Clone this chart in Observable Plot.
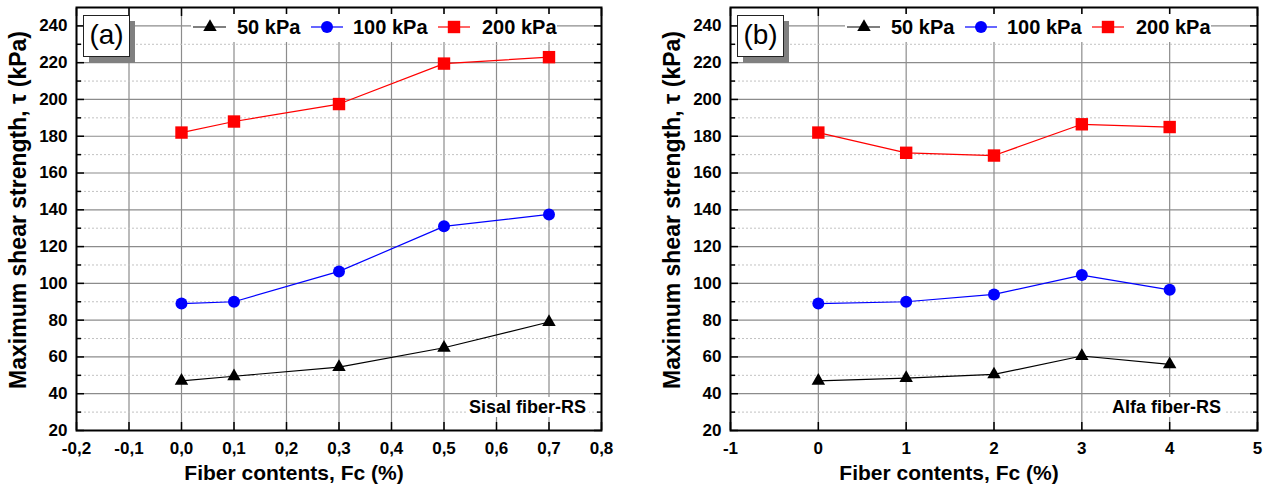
<!DOCTYPE html>
<html><head><meta charset="utf-8">
<script src="https://cdn.jsdelivr.net/npm/d3@7"></script>
<script src="https://cdn.jsdelivr.net/npm/@observablehq/plot@0.6"></script>
<style>
body{margin:0;background:#fff;}
#row{display:flex;width:1265px;height:489px;overflow:hidden;}
.panel{position:relative;}
.panel svg.ov{position:absolute;left:0;top:0;pointer-events:none;}
</style></head><body><div id="row"></div>
<script>
// ---- data ----
const loads = ["50 kPa", "100 kPa", "200 kPa"];
const colors = ["#000000", "#0000ff", "#ff0000"];
const symbols = ["triangle", "circle", "square"];
const radii = [5, 6, 7];

const fcA = [0, 0.1, 0.3, 0.5, 0.7];
const tauA50 = [47, 49.5, 54.5, 65, 79];
const tauA100 = [89, 90, 106.5, 131, 137.5];
const tauA200 = [182, 188, 197.5, 219.5, 223];

const fcB = [0, 1, 2, 3, 4];
const tauB50 = [47, 48.5, 50.5, 60.5, 56];
const tauB100 = [89, 90, 94, 104.5, 96.5];
const tauB200 = [182, 171, 169.5, 186.5, 185];

const xTicksA = [-0.2, -0.1, 0, 0.1, 0.2, 0.3, 0.4, 0.5, 0.6, 0.7, 0.8];
const xTickLabelsA = ["-0,2", "-0,1", "0,0", "0,1", "0,2", "0,3", "0,4", "0,5", "0,6", "0,7", "0,8"];
const xTicksB = [-1, 0, 1, 2, 3, 4, 5];
const xTickLabelsB = ["-1", "0", "1", "2", "3", "4", "5"];
const yTicks = [20, 40, 60, 80, 100, 120, 140, 160, 180, 200, 220, 240];
const yTickLabels = ["20", "40", "60", "80", "100", "120", "140", "160", "180", "200", "220", "240"];
const yMinor = [30, 50, 70, 90, 110, 130, 150, 170, 190, 210, 230];

const yTitle = "Maximum shear strength, \u03c4 (kPa)";
const xTitle = "Fiber contents, Fc (%)";
const panelTags = ["(a)", "(b)"];
const fiberNames = ["Sisal fiber-RS", "Alfa fiber-RS"];

// ---- build ----
function rowsOf(fc, s50, s100, s200) {
  const out = [];
  [s50, s100, s200].forEach((s, k) => s.forEach((v, i) => out.push({fc: fc[i], tau: v, load: loads[k]})));
  return out;
}

function label(ticks, labels) {
  return d => { const i = ticks.findIndex(t => Math.abs(t - d) < 1e-9); return i < 0 ? "" : labels[i]; };
}

const FONT = "'Liberation Sans', Arial, Helvetica, sans-serif";

function makePanel(cfg) {
  const {width, ml, mr, xDomain, xTicks, xLabels, rows, tag, name, nameGap} = cfg;
  const mt = 7, mb = 59, H = 489;
  const chart = Plot.plot({
    width, height: H, marginLeft: ml, marginRight: mr, marginTop: mt, marginBottom: mb,
    x: {domain: xDomain, label: null},
    y: {domain: [20, 250], label: null},
    color: {domain: loads, range: colors},
    style: {fontFamily: FONT, fontWeight: "bold", fontSize: "17px", color: "black", background: "white"},
    marks: [
      Plot.gridX({ticks: xTicks, stroke: "#8c8c8c", strokeOpacity: 1, strokeWidth: 1.2}),
      Plot.gridY({ticks: yMinor, stroke: "#c2c2c2", strokeOpacity: 1, strokeDasharray: "2,2"}),
      Plot.gridY({ticks: yTicks, stroke: "#8c8c8c", strokeOpacity: 1, strokeWidth: 1.2}),
      Plot.line(rows, {x: "fc", y: "tau", z: "load", stroke: "load", strokeWidth: 1.2}),
      ...loads.map((ld, k) => Plot.dot(rows.filter(r => r.load === ld), {
        x: "fc", y: "tau", symbol: symbols[k], r: radii[k], fill: colors[k], stroke: "none"
      })),
      // tick labels
      Plot.axisX({ticks: xTicks, tickFormat: label(xTicks, xLabels), tickSize: 0, tickPadding: 11, fontSize: 17, fontWeight: "bold"}),
      Plot.axisY({ticks: yTicks, tickFormat: label(yTicks, yTickLabels), tickSize: 0, tickPadding: 9, fontSize: 17, fontWeight: "bold"}),
      // inward ticks
      Plot.axisX({anchor: "bottom", ticks: xTicks, tickSize: 8, dy: -8, fill: "none", strokeWidth: 1.5}),
      Plot.axisX({anchor: "top", ticks: xTicks, tickSize: 8, dy: 8, fill: "none", strokeWidth: 1.5}),
      Plot.axisY({anchor: "left", ticks: yTicks, tickSize: 8, dx: 8, fill: "none", strokeWidth: 1.5}),
      Plot.axisY({anchor: "left", ticks: yMinor, tickSize: 5, dx: 5, fill: "none", strokeWidth: 1.5}),
      Plot.axisY({anchor: "right", ticks: yTicks, tickSize: 8, dx: -8, fill: "none", strokeWidth: 1.5}),
      Plot.axisY({anchor: "right", ticks: yMinor, tickSize: 5, dx: -5, fill: "none", strokeWidth: 1.5}),
      // titles
      Plot.text([yTitle], {text: d => d, frameAnchor: "left", textAnchor: "middle", rotate: -90, dx: -58, dy: -9, fontSize: 23, fontWeight: "bold"}),
      Plot.text([xTitle], {text: d => d, frameAnchor: "bottom", dx: -45, dy: 49, fontSize: 21, fontWeight: "bold"}),
      Plot.frame({stroke: "black", strokeWidth: 2})
    ]
  });

  const wrap = document.createElement("div");
  wrap.className = "panel";
  wrap.style.width = width + "px";
  wrap.style.height = H + "px";
  wrap.appendChild(chart);
  document.getElementById("row").appendChild(wrap);

  const pw = width - ml - mr;
  const ov = d3.select(wrap).append("svg").attr("class", "ov")
    .attr("width", width).attr("height", H)
    .style("font-family", FONT);

  // legend
  const lg = ov.append("g").attr("transform", `translate(${ml},0)`);
  lg.append("rect").attr("x", 115).attr("y", 14).attr("width", 366).attr("height", 28).attr("fill", "white");
  const items = [
    {x0: 117, x1: 150, sx: 134, tx: 161},
    {x0: 235, x1: 267, sx: 251, tx: 277},
    {x0: 362, x1: 394, sx: 378, tx: 406}
  ];
  const symMap = {triangle: d3.symbolTriangle, circle: d3.symbolCircle, square: d3.symbolSquare};
  items.forEach((it, k) => {
    lg.append("line").attr("x1", it.x0).attr("x2", it.x1).attr("y1", 27).attr("y2", 27)
      .attr("stroke", colors[k]).attr("stroke-width", 1.2);
    lg.append("path").attr("d", d3.symbol(symMap[symbols[k]], Math.PI * radii[k] * radii[k])())
      .attr("transform", `translate(${it.sx},27)`).attr("fill", colors[k]);
    lg.append("text").attr("x", it.tx).attr("y", 34).attr("font-size", 20).attr("font-weight", "bold")
      .attr("fill", "black").text(loads[k]);
  });

  // tag box
  ov.append("rect").attr("x", ml + 13).attr("y", 21).attr("width", 46).attr("height", 42).attr("fill", "#808080");
  ov.append("rect").attr("x", ml + 7.5).attr("y", 15.5).attr("width", 46).attr("height", 41)
    .attr("fill", "white").attr("stroke", "#222").attr("stroke-width", 1);
  ov.append("text").attr("x", ml + 30.5).attr("y", 44).attr("text-anchor", "middle")
    .attr("font-size", 28).attr("font-weight", "normal").attr("fill", "black").text(tag);

  // fiber name
  const ng = ov.append("g");
  const bg = ng.append("rect").attr("fill", "white");
  const t = ng.append("text").attr("x", ml + pw - nameGap).attr("y", 413).attr("text-anchor", "end")
    .attr("font-size", 18).attr("font-weight", "bold").attr("fill", "black").text(name);
  const bb = t.node().getBBox();
  bg.attr("x", bb.x - 3).attr("y", bb.y).attr("width", bb.width + 6).attr("height", bb.height);
}

makePanel({width: 632, ml: 76, mr: 31, xDomain: [-0.2, 0.8], xTicks: xTicksA, xLabels: xTickLabelsA,
  rows: rowsOf(fcA, tauA50, tauA100, tauA200), tag: panelTags[0], name: fiberNames[0], nameGap: 15});
makePanel({width: 633, ml: 98, mr: 8, xDomain: [-1, 5], xTicks: xTicksB, xLabels: xTickLabelsB,
  rows: rowsOf(fcB, tauB50, tauB100, tauB200), tag: panelTags[1], name: fiberNames[1], nameGap: 36});
</script>
</body></html>
